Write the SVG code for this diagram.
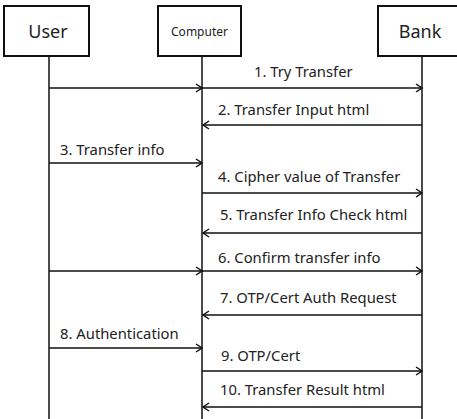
<svg xmlns="http://www.w3.org/2000/svg" width="457" height="419" viewBox="0 0 457 419">
  <style>
    .box { fill: #fff; stroke: #111; stroke-width: 2; }
    .life { stroke: #111; stroke-width: 1.5; fill: none; }
    .msg { stroke: #111; stroke-width: 1.5; fill: none; marker-end: url(#head); }
    .lbl { font-family: "Noto Sans", "Open Sans", sans-serif; font-size: 14.8px; fill: #222; }
    .name { font-family: "Noto Sans", "Open Sans", sans-serif; fill: #222; text-anchor: middle; }
  </style>
  <defs>
    <marker id="head" markerUnits="userSpaceOnUse" markerWidth="12" markerHeight="12" refX="7" refY="5" orient="auto">
      <path d="M1,1 L7,5 L1,9" fill="none" stroke="#111" stroke-width="1.5"/>
    </marker>
  </defs>

  <g id="lifelines">
    <line class="life" x1="49" y1="56" x2="49" y2="419"/>
    <line class="life" x1="202" y1="56" x2="202" y2="419"/>
    <line class="life" x1="422" y1="56" x2="422" y2="419"/>
  </g>

  <g id="user">
    <rect class="box" x="4" y="6" width="85" height="50"/>
    <text class="name" x="48" y="38" font-size="18">User</text>
  </g>
  <g id="computer">
    <rect class="box" x="158" y="6" width="83" height="50"/>
    <text class="name" x="199.5" y="36" font-size="12">Computer</text>
  </g>
  <g id="bank">
    <rect class="box" x="378" y="6" width="90" height="50"/>
    <text class="name" x="420" y="38" font-size="18">Bank</text>
  </g>

  <g id="connectors">
    <!-- 1 -->
    <line class="msg" x1="49" y1="88" x2="202" y2="88"/>
    <line class="msg" x1="202" y1="88" x2="422" y2="88"/>
    <!-- 2 -->
    <line class="msg" x1="422" y1="125" x2="203" y2="125"/>
    <!-- 3 -->
    <line class="msg" x1="49" y1="163" x2="202" y2="163"/>
    <!-- 4 -->
    <line class="msg" x1="202" y1="193" x2="422" y2="193"/>
    <!-- 5 -->
    <line class="msg" x1="422" y1="233" x2="203" y2="233"/>
    <!-- 6 -->
    <line class="msg" x1="49" y1="271" x2="202" y2="271"/>
    <line class="msg" x1="202" y1="271" x2="422" y2="271"/>
    <!-- 7 -->
    <line class="msg" x1="422" y1="315" x2="203" y2="315"/>
    <!-- 8 -->
    <line class="msg" x1="49" y1="348" x2="202" y2="348"/>
    <!-- 9 -->
    <line class="msg" x1="202" y1="371" x2="422" y2="371"/>
    <!-- 10 -->
    <line class="msg" x1="422" y1="407" x2="203" y2="407"/>
  </g>

  <g id="labels">
    <text class="lbl" x="254" y="77">1. Try Transfer</text>
    <text class="lbl" x="218" y="115">2. Transfer Input html</text>
    <text class="lbl" x="60" y="155">3. Transfer info</text>
    <text class="lbl" x="218" y="182">4. Cipher value of Transfer</text>
    <text class="lbl" x="220" y="220">5. Transfer Info Check html</text>
    <text class="lbl" x="218" y="263">6. Confirm transfer info</text>
    <text class="lbl" x="220" y="303">7. OTP/Cert Auth Request</text>
    <text class="lbl" x="60" y="339">8. Authentication</text>
    <text class="lbl" x="221" y="361">9. OTP/Cert</text>
    <text class="lbl" x="220" y="395">10. Transfer Result html</text>
  </g>
</svg>
